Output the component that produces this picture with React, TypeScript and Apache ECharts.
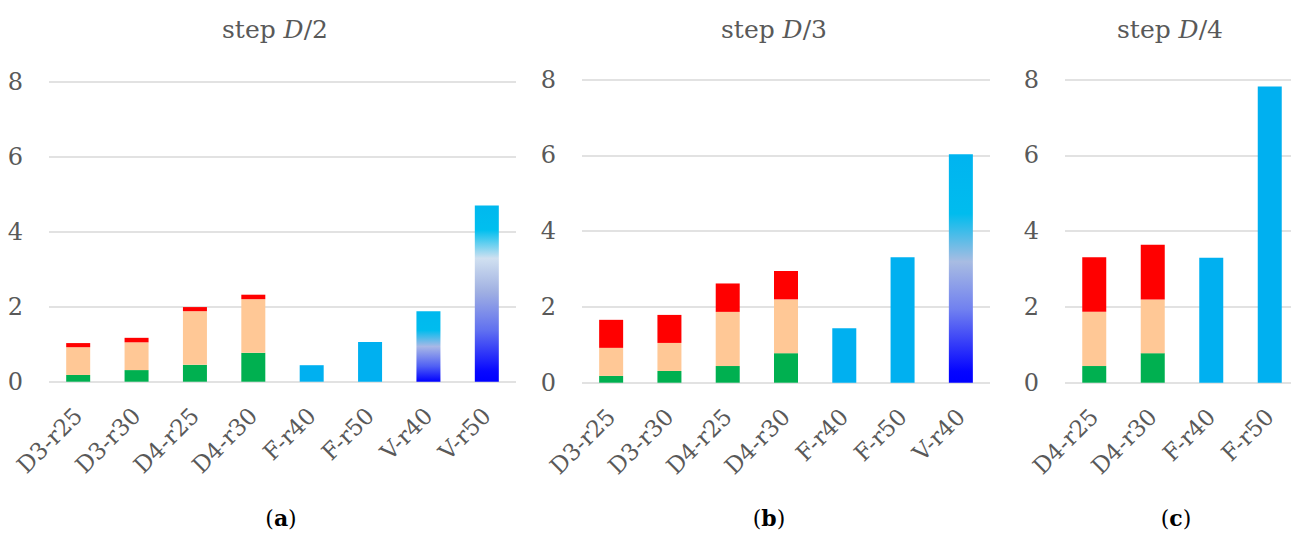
import React, { useEffect, useRef } from "react";
import * as echarts from "echarts";

// ---- data ----
const categoriesA = ["D3-r25", "D3-r30", "D4-r25", "D4-r30", "F-r40", "F-r50", "V-r40", "V-r50"];
const greenA = [0.18, 0.31, 0.45, 0.77, null, null, null, null];
const peachA = [0.74, 0.74, 1.43, 1.43, null, null, null, null];
const redA = [0.11, 0.12, 0.11, 0.12, null, null, null, null];
const solidA = [null, null, null, null, 0.44, 1.06, 1.88, 4.7];

const categoriesB = ["D3-r25", "D3-r30", "D4-r25", "D4-r30", "F-r40", "F-r50", "V-r40"];
const greenB = [0.18, 0.31, 0.44, 0.78, null, null, null];
const peachB = [0.74, 0.74, 1.43, 1.42, null, null, null];
const redB = [0.74, 0.74, 0.75, 0.75, null, null, null];
const solidB = [null, null, null, null, 1.44, 3.31, 6.03];

const categoriesC = ["D4-r25", "D4-r30", "F-r40", "F-r50"];
const greenC = [0.44, 0.78, null, null];
const peachC = [1.43, 1.42, null, null];
const redC = [1.44, 1.44, null, null];
const solidC = [null, null, 3.3, 7.82];

const yTicks = { min: 0, max: 8, interval: 2 };
const panelTitles = ["2", "3", "4"];
const panelLetters = ["a", "b", "c"];

// ---- styles ----
const FONT = "DejaVu Serif";
const GREEN = "#00B050";
const PEACH = "#FFC896";
const RED = "#FF0000";
const CYAN = "#00B0F0";

const gradStops: Record<string, [number, string][]> = {
  "a:V-r40": [[0, "#00B8EE"], [0.27, "#00BCEE"], [0.5, "#A8B8E6"], [0.78, "#5060F4"], [1, "#0000FF"]],
  "a:V-r50": [[0, "#00B8EE"], [0.14, "#00BFEF"], [0.3, "#D0E0F0"], [0.49, "#A0B0E2"], [0.71, "#6070F0"], [0.94, "#0808FF"], [1, "#0000FF"]],
  "b:V-r40": [[0, "#00B4F0"], [0.26, "#00BCEE"], [0.47, "#A8BCE2"], [0.68, "#7080F0"], [0.95, "#0505FF"], [1, "#0000FF"]],
};

const grids = [
  { left: 49, top: 81.7, width: 467, height: 300 },
  { left: 582, top: 79.7, width: 408, height: 303 },
  { left: 1065, top: 79.7, width: 234, height: 303 },
];
const titleCenters = [270, 769, 1165];
const letterCenters = [276, 764, 1171];

function gradient(stops: [number, string][]) {
  return new echarts.graphic.LinearGradient(
    0, 0, 0, 1,
    stops.map(([offset, color]) => ({ offset, color }))
  );
}

export default function App() {
  const ref = useRef<HTMLDivElement>(null);

  useEffect(() => {
    if (!ref.current) return;
    const chart = echarts.init(ref.current, null, { renderer: "svg" });

    const panels = [
      { key: "a", cats: categoriesA, green: greenA, peach: peachA, red: redA, solid: solidA },
      { key: "b", cats: categoriesB, green: greenB, peach: peachB, red: redB, solid: solidB },
      { key: "c", cats: categoriesC, green: greenC, peach: peachC, red: redC, solid: solidC },
    ];

    const series: any[] = [];
    panels.forEach((p, i) => {
      const base = {
        type: "bar",
        xAxisIndex: i,
        yAxisIndex: i,
        stack: "s" + i,
        barWidth: 24,
        silent: true,
      };
      const toData = (arr: (number | null)[]) => arr.map((v) => (v == null ? "-" : v));
      series.push({ ...base, name: "green" + i, data: toData(p.green), itemStyle: { color: GREEN } });
      series.push({ ...base, name: "peach" + i, data: toData(p.peach), itemStyle: { color: PEACH } });
      series.push({ ...base, name: "red" + i, data: toData(p.red), itemStyle: { color: RED } });
      series.push({
        ...base,
        name: "solid" + i,
        data: p.solid.map((v, j) => {
          if (v == null) return "-";
          const g = gradStops[p.key + ":" + p.cats[j]];
          return g ? { value: v, itemStyle: { color: gradient(g) } } : v;
        }),
        itemStyle: { color: CYAN },
      });
    });

    const option: any = {
      animation: false,
      textStyle: { fontFamily: FONT },
      title: [
        ...titleCenters.map((x, i) => ({
          text: "step {i|D}/" + panelTitles[i],
          left: x,
          top: 12,
          textAlign: "center",
          textStyle: {
            fontFamily: FONT,
            fontSize: 25,
            fontWeight: "normal",
            color: "#595959",
            rich: {
              i: { fontFamily: FONT, fontSize: 25, fontStyle: "italic", color: "#595959" },
            },
          },
        })),
        ...letterCenters.map((x, i) => ({
          text: "({b|" + panelLetters[i] + "})",
          left: x,
          top: 502,
          textAlign: "center",
          textStyle: {
            fontFamily: FONT,
            fontSize: 22,
            fontWeight: "normal",
            color: "#000000",
            rich: { b: { fontFamily: FONT, fontSize: 22, fontWeight: "bold", color: "#000000" } },
          },
        })),
      ],
      grid: grids.map((g) => ({ ...g, containLabel: false, outerBoundsMode: "none" })),
      xAxis: panels.map((p, i) => ({
        type: "category",
        gridIndex: i,
        data: p.cats,
        axisLine: { show: false },
        axisTick: { show: false },
        axisLabel: {
          interval: 0,
          rotate: 45,
          margin: 30,
          fontFamily: FONT,
          fontSize: 23,
          color: "#595959",
        },
      })),
      yAxis: panels.map((p, i) => ({
        type: "value",
        gridIndex: i,
        min: yTicks.min,
        max: yTicks.max,
        interval: yTicks.interval,
        axisLine: { show: false },
        axisTick: { show: false },
        axisLabel: { margin: 26, fontFamily: FONT, fontSize: 24, color: "#595959" },
        splitLine: { lineStyle: { color: "#D9D9D9", width: 1.5 } },
      })),
      series,
    };

    chart.setOption(option);
    return () => chart.dispose();
  }, []);

  return (
    <div
      ref={ref}
      style={{ position: "absolute", left: 0, top: 0, width: 1291, height: 544, background: "#fff" }}
    />
  );
}
